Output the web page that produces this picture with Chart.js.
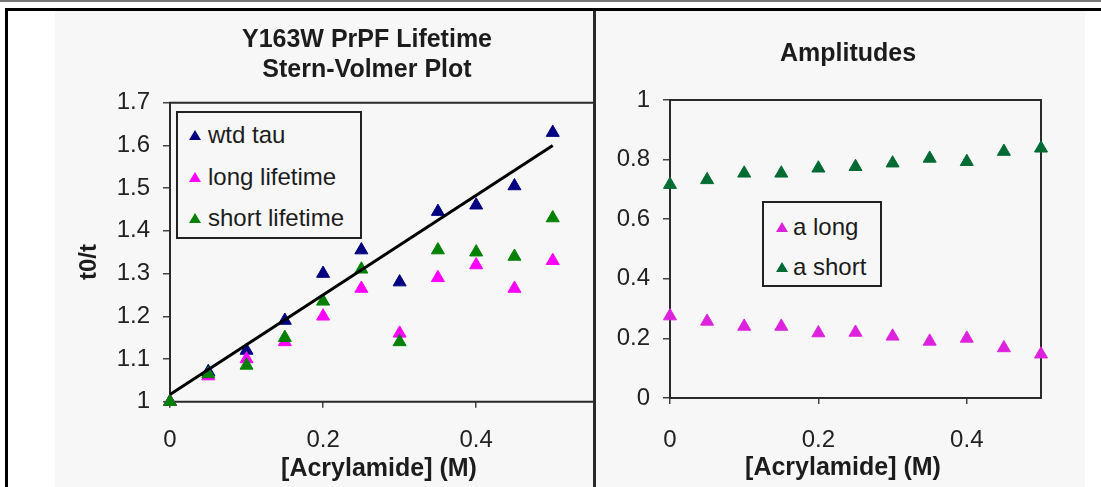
<!DOCTYPE html>
<html>
<head>
<meta charset="utf-8">
<script src="https://cdn.jsdelivr.net/npm/chart.js@4/dist/chart.umd.min.js"></script>
<style>
  html, body { margin: 0; padding: 0; background: #fff; }
  body { width: 1101px; height: 487px; position: relative; overflow: hidden;
         font-family: "Liberation Sans", Arial, sans-serif; color: #1c1c1c; }
  .abs { position: absolute; }
  .title { font-weight: bold; font-size: 25px; line-height: 30px; text-align: center; white-space: nowrap; }
  .legend { box-sizing: border-box; border: 2px solid #222; background: #f7f7f7; }
  .legend .row { position: absolute; font-size: 24px; line-height: 28px; white-space: nowrap; }
  .tri { position: absolute; width: 0; height: 0; border-left: 6px solid transparent;
         border-right: 6px solid transparent; border-bottom: 10px solid #000; }
</style>
</head>
<body>
  <!-- page lines and frame -->
  <div class="abs" style="left:0;top:0;width:1101px;height:2px;background:#777"></div>
  <div class="abs" style="left:5px;top:8px;width:1096px;height:3px;background:#000"></div>
  <div class="abs" style="left:5px;top:8px;width:3px;height:479px;background:#000"></div>

  <!-- left chart -->
  <div class="abs" style="left:55px;top:11px;width:540px;height:476px;background:#f7f7f7"></div>
  <canvas id="svChart" class="abs" style="left:8px;top:11px" width="620" height="476"></canvas>
  <div class="abs title" style="left:167px;top:23px;width:400px">Y163W PrPF Lifetime</div>
  <div class="abs title" style="left:167px;top:53px;width:400px">Stern-Volmer Plot</div>
  <div class="abs title" style="left:48px;top:247px;width:80px;transform:rotate(-90deg);font-size:24px">t0/t</div>
  <div class="abs title" style="left:179px;top:452px;width:400px">[Acrylamide] (M)</div>
  <div class="abs legend" style="left:176px;top:111px;width:186px;height:128px">
    <div class="tri" style="left:11px;top:17px;border-bottom-color:#000080"></div>
    <div class="row" style="left:30px;top:8px">wtd tau</div>
    <div class="tri" style="left:11px;top:59px;border-bottom-color:#ff00ff"></div>
    <div class="row" style="left:30px;top:50px">long lifetime</div>
    <div class="tri" style="left:11px;top:100px;border-bottom-color:#008000"></div>
    <div class="row" style="left:30px;top:91px">short lifetime</div>
  </div>

  <!-- right chart (sits over the overflow of the left one) -->
  <div class="abs" style="left:593px;top:11px;width:508px;height:476px;background:#fff;z-index:5">
    <div class="abs" style="left:0;top:0;width:3px;height:476px;background:#2a2a2a"></div>
    <div class="abs" style="left:3px;top:0;width:489px;height:476px;background:#f7f7f7"></div>
    <canvas id="ampChart" class="abs" style="left:3px;top:0" width="505" height="476"></canvas>
    <div class="abs title" style="left:55px;top:26px;width:400px">Amplitudes</div>
    <div class="abs title" style="left:50px;top:440px;width:400px">[Acrylamide] (M)</div>
    <div class="abs legend" style="left:169px;top:190px;width:120px;height:86px">
      <div class="tri" style="left:12px;top:19px;border-bottom-color:#dd22dd"></div>
      <div class="row" style="left:29px;top:10px">a long</div>
      <div class="tri" style="left:12px;top:59px;border-bottom-color:#006a33"></div>
      <div class="row" style="left:29px;top:50px">a short</div>
    </div>
  </div>

<script>
// acrylamide concentration (M)
const concentration = [0, 0.05, 0.1, 0.15, 0.2, 0.25, 0.3, 0.35, 0.4, 0.45, 0.5];

// Stern-Volmer values t0/t
const wtdTau        = [1.00, 1.07, 1.12, 1.19, 1.30, 1.355, 1.28, 1.445, 1.46, 1.505, 1.63];
const longLifetime  = [1.00, 1.06, 1.10, 1.14, 1.20, 1.265, 1.16, 1.29, 1.32, 1.265, 1.33];
const shortLifetime = [1.00, 1.065, 1.085, 1.15, 1.235, 1.31, 1.14, 1.355, 1.35, 1.34, 1.43];
// linear trendline of wtd tau, end points
const trendX = [0, 0.5];
const trendY = [1.017, 1.60];

// amplitudes
const aLong  = [0.275, 0.257, 0.24, 0.24, 0.218, 0.22, 0.207, 0.19, 0.20, 0.168, 0.147];
const aShort = [0.716, 0.732, 0.754, 0.754, 0.771, 0.776, 0.788, 0.804, 0.793, 0.827, 0.838];

// tick labels
const svYTicks  = [1, 1.1, 1.2, 1.3, 1.4, 1.5, 1.6, 1.7];
const svXTicks  = [0, 0.2, 0.4];
const ampYTicks = [0, 0.2, 0.4, 0.6, 0.8, 1];
const ampXTicks = [0, 0.2, 0.4];

function toPoints(xs, ys) {
  return xs.map((x, i) => ({ x: x, y: ys[i] }));
}

const tickFont = { family: '"Liberation Sans", Arial, sans-serif', size: 24 };

// Plot area border (Excel style)
const plotFrame = {
  id: 'plotFrame',
  beforeDatasetsDraw(chart, args, opts) {
    const { ctx, chartArea: a } = chart;
    ctx.save();
    ctx.strokeStyle = '#2a2a2a';
    ctx.lineWidth = 2;
    ctx.beginPath();
    if (opts.open) {
      ctx.moveTo(opts.extendTo, a.top);
      ctx.lineTo(a.left, a.top);
      ctx.lineTo(a.left, a.bottom);
      ctx.lineTo(opts.extendTo, a.bottom);
    } else {
      ctx.rect(a.left, a.top, a.width, a.height);
    }
    ctx.stroke();
    ctx.restore();
  }
};

function scatterSet(data, color) {
  return {
    data: data,
    showLine: false,
    pointStyle: 'triangle',
    pointRadius: 7.5,
    pointHoverRadius: 7.5,
    pointBackgroundColor: color,
    pointBorderColor: color,
    pointBorderWidth: 1,
    clip: false
  };
}

function axis(min, max, tickList, pad, tickLen, fit) {
  return {
    type: 'linear',
    min: min,
    max: max,
    afterBuildTicks: a => { a.ticks = tickList.map(v => ({ value: v })); },
    afterFit: fit,
    border: { display: false },
    grid: { display: true, drawOnChartArea: false, drawTicks: true, tickLength: tickLen, color: '#444', lineWidth: 1.5 },
    ticks: { font: tickFont, color: '#222', padding: pad, callback: v => String(v) }
  };
}

// Left chart: Stern-Volmer plot
new Chart(document.getElementById('svChart'), {
  type: 'scatter',
  data: {
    datasets: [
      {
        data: toPoints(trendX, trendY),
        showLine: true,
        borderColor: '#000',
        borderWidth: 3,
        pointRadius: 0,
        clip: false
      },
      scatterSet(toPoints(concentration, shortLifetime), '#008000'),
      scatterSet(toPoints(concentration, longLifetime), '#ff00ff'),
      scatterSet(toPoints(concentration, wtdTau), '#000080')
    ]
  },
  options: {
    responsive: false,
    animation: false,
    layout: { padding: { left: 0, right: 37, top: 91.7, bottom: 0 } },
    plugins: {
      legend: { display: false },
      tooltip: { enabled: false },
      plotFrame: { open: true, extendTo: 590 }
    },
    scales: {
      x: axis(0, 0.55, svXTicks, 18, 6, s => { s.height = 85.3; }),
      y: axis(1, 1.7, svYTicks, 13, 7, s => { s.width = 162; })
    }
  },
  plugins: [plotFrame]
});

// Right chart: amplitudes
new Chart(document.getElementById('ampChart'), {
  type: 'scatter',
  data: {
    datasets: [
      scatterSet(toPoints(concentration, aShort), '#006a33'),
      scatterSet(toPoints(concentration, aLong), '#dd22dd')
    ]
  },
  options: {
    responsive: false,
    animation: false,
    layout: { padding: { left: 0, right: 60, top: 89, bottom: 0 } },
    plugins: {
      legend: { display: false },
      tooltip: { enabled: false },
      plotFrame: { open: false }
    },
    scales: {
      x: axis(0, 0.5, ampXTicks, 21.6, 6, s => { s.height = 89; }),
      y: axis(0, 1, ampYTicks, 13, 7, s => { s.width = 74; })
    }
  },
  plugins: [plotFrame]
});
</script>
</body>
</html>
